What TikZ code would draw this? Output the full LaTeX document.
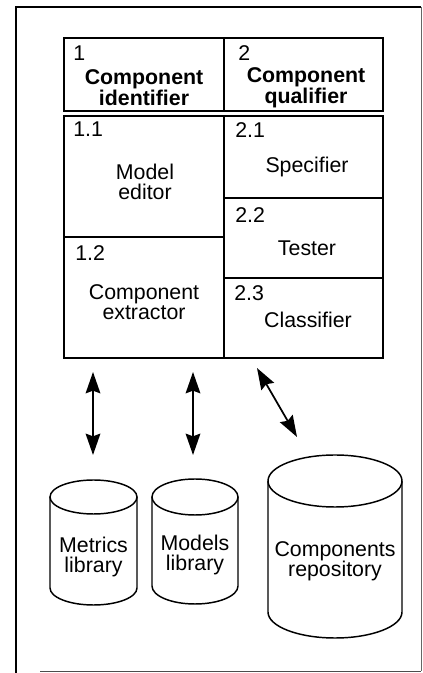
\documentclass[tikz,border=0pt]{standalone}
\usepackage{fontspec}
\setmainfont{Liberation Sans}
\usetikzlibrary{arrows.meta,fit}

\begin{document}
\begin{tikzpicture}[x=0.75pt,y=0.75pt,
  frameline/.style={line width=2.2pt},
  cell/.style={draw,line width=1.3pt,inner sep=0pt},
  cyl/.style={line width=1.1pt},
  label/.style={font=\fontsize{16pt}{15pt}\selectfont,align=center,inner sep=0pt},
  head/.style={font=\fontsize{16pt}{14pt}\selectfont\bfseries,align=center,inner sep=0pt},
  num/.style={font=\fontsize{16pt}{15pt}\selectfont,anchor=west,inner sep=0pt},
  link/.style={line width=1.3pt,{Stealth[length=16pt,width=11pt,inset=2pt]}-{Stealth[length=16pt,width=11pt,inset=2pt]}}
]
\useasboundingbox (0,0) rectangle (423,673);

% outer frame
\draw[frameline] (16,0) -- (16,666) -- (421,666);
\draw[line width=0.6pt,black!60] (421.5,666) -- (421.5,2);
\draw[line width=0.6pt,black!70] (40,2) -- (421,2);

% table cells
\node[cell,fit={(64,562) (224,635)}] (h1) {};
\node[cell,fit={(224,562) (383,635)}] (h2) {};
\node[cell,fit={(64,436) (224,557)}] (c11) {};
\node[cell,fit={(64,315) (224,436)}] (c12) {};
\node[cell,fit={(224,475) (383,557)}] (c21) {};
\node[cell,fit={(224,395) (383,475)}] (c22) {};
\node[cell,fit={(224,315) (383,395)}] (c23) {};

% header texts
\node[num] (n1) at (73,620) {1};
\node[head] (t1) at (144,585) {Component\\identifier};
\node[num] (n2) at (238,620) {2};
\node[head] (t2) at (306,585) {Component\\qualifier};

% body texts
\node[num] (n11) at (73,544) {1.1};
\node[label] (t11) at (145,491) {Model\\editor};
\node[num] (n12) at (75,420) {1.2};
\node[label] (t12) at (144,371) {Component\\extractor};
\node[num] (n21) at (235,543) {2.1};
\node[label] (t21) at (307,506) {Specifier};
\node[num] (n22) at (235,458) {2.2};
\node[label] (t22) at (307,425) {Tester};
\node[num] (n23) at (234,380) {2.3};
\node[label] (t23) at (308,353) {Classifier};

% storage cylinders
\draw[cyl] (50,176) -- (50,85) arc[start angle=180,end angle=360,x radius=43.5,y radius=17] -- (137,176);
\draw[cyl] (93.5,176) ellipse[x radius=43.5,y radius=17];
\node[label] (metrics) at (93.5,116) {Metrics\\library};

\draw[cyl] (152,176) -- (152,87) arc[start angle=180,end angle=360,x radius=43,y radius=18] -- (238,176);
\draw[cyl] (195,176) ellipse[x radius=43,y radius=18];
\node[label] (models) at (195,118) {Models\\library};

\draw[cyl] (268,192) -- (268,61) arc[start angle=180,end angle=360,x radius=67,y radius=26] -- (402,192);
\draw[cyl] (335,192) ellipse[x radius=67,y radius=26];
\node[label] (repo) at (335,112) {Components\\repository};

% arrow end points
\coordinate (a1s) at (93,301);
\coordinate (a1e) at (93,218);
\coordinate (a2s) at (193,301);
\coordinate (a2e) at (193,218);
\coordinate (a3s) at (257,305);
\coordinate (a3e) at (297,236);

\draw[link] (a1s) -- (a1e);
\draw[link] (a2s) -- (a2e);
\draw[link] (a3s) -- (a3e);
\end{tikzpicture}
\end{document}
